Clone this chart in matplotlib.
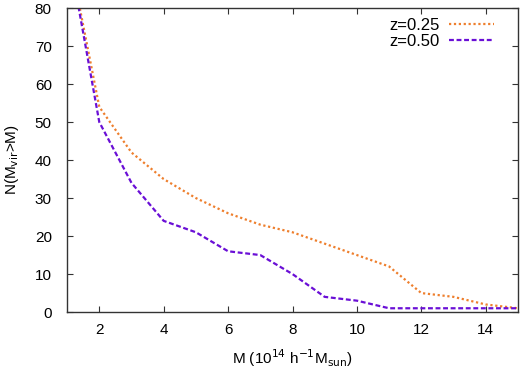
import matplotlib
import matplotlib.pyplot as plt
import numpy as np

plt.switch_backend('agg')

# Cumulative cluster counts N(Mvir > M)
mass = [1, 2, 3, 4, 5, 6, 7, 8, 9, 10, 11, 12, 13, 14, 15]
n_z025 = [97, 54, 42, 35, 30, 26, 23, 21, 18, 15, 12, 5, 4, 2, 1]
n_z050 = [97, 50, 34, 24, 21, 16, 15, 10, 4, 3, 1, 1, 1, 1, 1]
labels = ['z=0.25', 'z=0.50']

plt.rcParams.update({'font.size': 11, 'font.family': ['Liberation Sans', 'DejaVu Sans']})
fig = plt.figure(figsize=(5.2, 3.68), dpi=100)
ax = fig.add_axes([0.129, 0.152, 0.867, 0.826])

ax.plot(mass, n_z025, color='#ee7f2d', lw=1.6, linestyle=(0, (1, 1.2)), label=labels[0])
ax.plot(mass, n_z050, color='#6a0fd6', lw=1.6, linestyle=(0, (2.2, 1.2)), label=labels[1])

ax.set_xlim(1, 15)
ax.set_ylim(0, 80)
ax.set_xticks(np.arange(2, 15, 2))
ax.set_yticks(np.arange(0, 81, 10))
ax.tick_params(direction='in', top=True, right=True, length=4, width=0.8, colors='#333333',
               labelcolor='black')
ax.tick_params(axis='x', pad=8)
ax.tick_params(axis='y', pad=11)
for sp in ax.spines.values():
    sp.set_color('#333333')
    sp.set_linewidth(1.0)

ax.set_xlabel(r'M (10$^{14}$ h$^{-1}$M$_{\rm sun}$)', labelpad=7)
ax.set_ylabel(r'N(M$_{\rm vir}$>M)', labelpad=10)

ax.legend(loc='upper right', frameon=False, markerfirst=False, handlelength=2.7,
          borderaxespad=0.0, borderpad=0.5, labelspacing=0.05, handletextpad=0.55, fontsize=12,
          bbox_to_anchor=(0.965, 0.995))

plt.savefig('out.png', dpi=100)
